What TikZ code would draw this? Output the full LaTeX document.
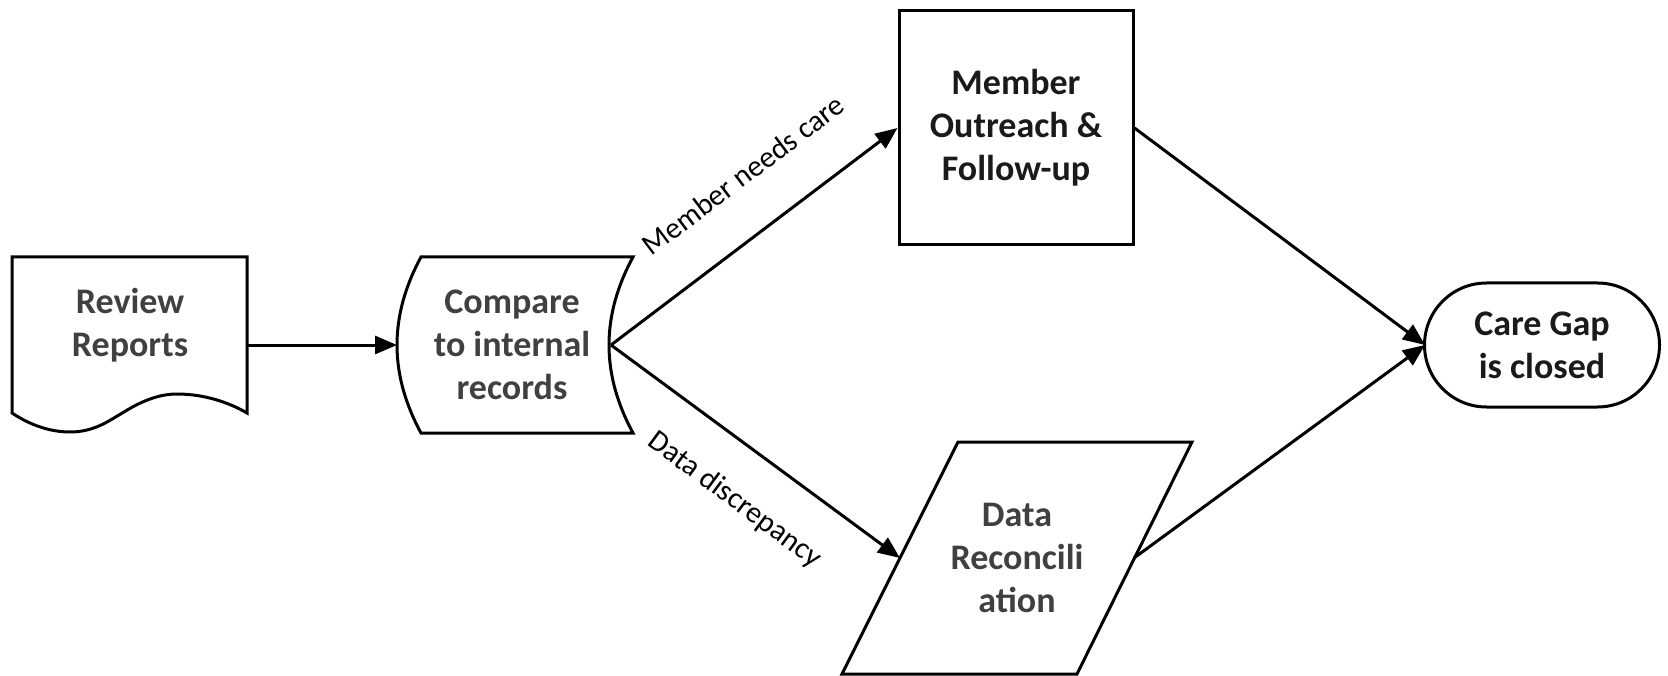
\documentclass[tikz,border=0pt]{standalone}
\usepackage{fontspec}
\setmainfont{Carlito}
\usetikzlibrary{arrows.meta}
\definecolor{txtgray}{HTML}{404040}
\definecolor{txtdark}{HTML}{1A1A1A}
\tikzset{
  shapeline/.style={line width=3pt, line join=miter},
  conn/.style={line width=3pt, -{Triangle[length=22pt,width=18pt]}},
  bigtext/.style={font=\bfseries\fontsize{36}{43}\selectfont, align=center},
  edgelabel/.style={font=\fontsize{30}{36}\selectfont, inner sep=0pt}
}
\begin{document}
\begin{tikzpicture}[x=1pt,y=-1pt]
\useasboundingbox (0,0) rectangle (1668,676);
% Review Reports (document)
\draw[shapeline] (12,413) -- (12,257) -- (247,257) -- (247,413)
  .. controls (230,403) and (205,394) .. (177,394)
  .. controls (158,394) and (140,402) .. (124,412)
  .. controls (110,420) and (95,432) .. (70,432)
  .. controls (50,432) and (30,425) .. (12,413) -- cycle;
\node[bigtext, text=txtgray] (review) at (130,325) {Review\\Reports};
\coordinate (reviewout) at (247,345);
% Compare (stored data)
\draw[shapeline] (421,257) -- (633,257)
  .. controls (601,316) and (601,374) .. (633,433)
  -- (421,433)
  .. controls (389,374) and (389,316) .. (421,257) -- cycle;
\node[bigtext, text=txtgray] (compare) at (512,345) {Compare\\to internal\\records};
\coordinate (comparein) at (397,345);
\coordinate (compareout) at (611,345);
% Member Outreach (process)
\node[shapeline, draw, rectangle, minimum width=234pt, minimum height=234pt,
      bigtext, text=txtdark] (member) at (1016,128) {Member\\Outreach \&\\Follow-up};
% Data Reconciliation (parallelogram)
\draw[shapeline] (958,442) -- (1192,442) -- (1077,674) -- (842,674) -- cycle;
\node[bigtext, text=txtgray] (datarec) at (1017,558) {Data\\Reconcili\\ation};
\coordinate (datarecin) at (900,558);
\coordinate (datarecout) at (1134,558);
% Care Gap (terminator)
\node[shapeline, draw, rectangle, rounded corners=62pt, minimum width=235pt,
      minimum height=124pt, bigtext, text=txtdark] (care) at (1542,345) {Care Gap\\is closed};
\coordinate (carein) at (1425,345);
% Connectors
\draw[conn] (reviewout) -- (comparein);
\draw[conn] (compareout) -- (member.west);
\draw[conn] (compareout) -- (datarecin);
\draw[conn] (member.east) -- (carein);
\draw[conn] (datarecout) -- (carein);
% Labels
\node[edgelabel, rotate=37] (lblcare) at (743,175) {Member needs care};
\node[edgelabel, rotate=-36.5] (lbldisc) at (735,500) {Data discrepancy};
\end{tikzpicture}
\end{document}
